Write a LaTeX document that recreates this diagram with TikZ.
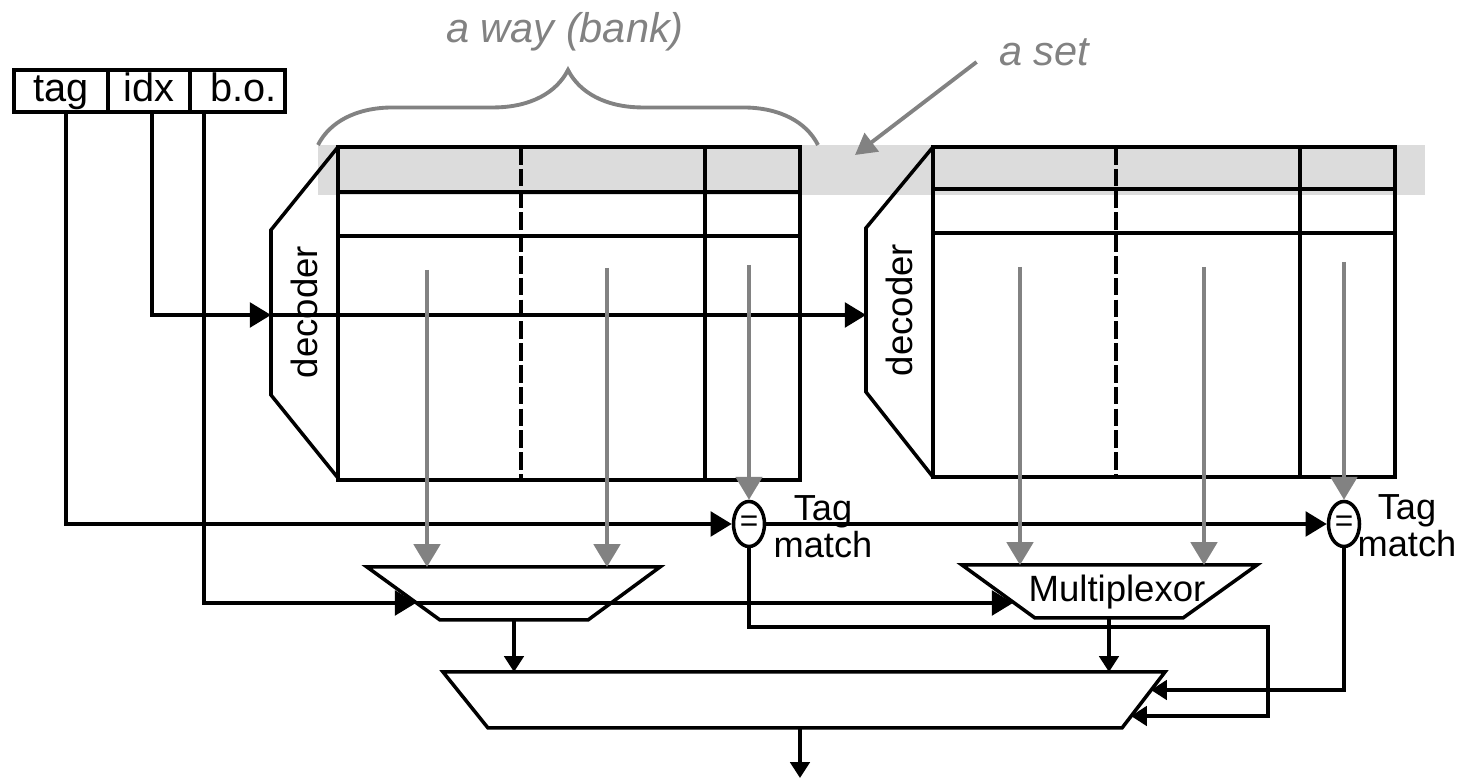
\documentclass[tikz,border=0pt]{standalone}
\usepackage{fontspec}
\setmainfont{Liberation Sans}
\usetikzlibrary{arrows.meta,decorations.pathreplacing,shapes.geometric,calc}
\definecolor{bandgray}{HTML}{DCDCDC}
\definecolor{midgray}{HTML}{828282}
\begin{document}
\begin{tikzpicture}[x=0.01cm,y=-0.01cm,
  wire/.style={line width=1pt,line join=miter},
  blk/.style={-{Triangle[length=6pt,width=7pt]}},
  sblk/.style={-{Triangle[length=4.5pt,width=5.5pt]}},
  gar/.style={draw=midgray,line width=1.1pt,-{Triangle[length=6.5pt,width=7.5pt]}},
  field/.style={draw,line width=1pt,minimum height=0.42cm,inner sep=0pt,text height=1.55ex,text depth=0.45ex,font=\fontsize{11.3}{13}\selectfont},
  lbl/.style={font=\fontsize{10.4}{12}\selectfont},
  tmlbl/.style={align=center,inner sep=0pt,font=\fontsize{10.3}{8.6}\selectfont},
  glbl/.style={text=midgray,font=\fontsize{11.8}{14}\selectfont\itshape},
  cmp/.style={draw,ellipse,line width=1pt,minimum width=0.31cm,minimum height=0.45cm,inner sep=0pt,fill=white,font=\fontsize{9}{9}\selectfont},
  grid/.style={line width=1pt},
  dgrid/.style={line width=1pt,dash pattern=on 5pt off 1.2pt},
]
\useasboundingbox (0,0) rectangle (1462,780);

% the highlighted set
\fill[bandgray] (318,145) rectangle (1425,195);

% address fields
\node[field,minimum width=0.94cm] (tagf) at (61,91) {tag};
\node[field,minimum width=0.82cm] (idxf) at (149,91) {idx};
\node[field,minimum width=0.95cm,text width=0.79cm,align=right,inner xsep=0.08cm] (bof) at (237.5,91) {b.o.};

% bank 1
\draw[grid] (338,147) -- (271,230) -- (271,395) -- (338,478);
\draw[grid] (338,147) rectangle (800,480);
\draw[grid] (338,192) -- (800,192);
\draw[grid] (338,236) -- (800,236);
\draw[dgrid] (521,147) -- (521,480);
\draw[grid] (705,147) -- (705,480);
\node[lbl,rotate=90] (dec1) at (304,312) {decoder};

% bank 2
\draw[grid] (933,147) -- (866,228) -- (866,392) -- (933,477);
\draw[grid] (933,147) rectangle (1395,477);
\draw[grid] (933,189) -- (1395,189);
\draw[grid] (933,233) -- (1395,233);
\draw[dgrid] (1116,147) -- (1116,477);
\draw[grid] (1300,147) -- (1300,477);
\node[lbl,rotate=90] (dec2) at (899,310) {decoder};

% brace and labels
\draw[midgray,line width=1.1pt,decorate,decoration={brace,amplitude=0.75cm}] (318,145) -- (818,145);
\node[glbl] (way) at (565,32) {a way (bank)};
\node[glbl] (aset) at (1044,52) {a set};
\coordinate (asetarr) at (855,155);
\draw[midgray,line width=1.1pt,-{Triangle[length=6pt,width=6.5pt]}] ($(aset.west)+(-10,10)$) -- (asetarr);

% comparators
\node[cmp] (c1) at (749,524) {=};
\node[cmp] (c2) at (1344,524) {=};
\node[tmlbl] (tm1) at (823,527) {Tag\\match};
\node[tmlbl] (tm2) at (1407,526) {Tag\\match};

% multiplexors
\coordinate (m1tl) at (367,567); \coordinate (m1tr) at (660,567);
\coordinate (m1br) at (588,620); \coordinate (m1bl) at (440,620);
\draw[wire] (m1tl) -- (m1tr) -- (m1br) -- (m1bl) -- cycle;
\coordinate (m2tl) at (962,565); \coordinate (m2tr) at (1257,565);
\coordinate (m2br) at (1183,618); \coordinate (m2bl) at (1035,618);
\draw[wire] (m2tl) -- (m2tr) -- (m2br) -- (m2bl) -- cycle;
\node[lbl] (mux2) at (1117,592) {Multiplexor};
\coordinate (btl) at (443,672); \coordinate (btr) at (1165,672);
\coordinate (bbr) at (1122,728); \coordinate (bbl) at (488,728);
\draw[wire] (btl) -- (btr) -- (bbr) -- (bbl) -- cycle;

% gray data arrows
\coordinate (g1) at (427,270); \coordinate (g1e) at (427,567);
\coordinate (g2) at (607,268); \coordinate (g2e) at (607,567);
\coordinate (g3) at (749,265);
\coordinate (g4) at (1020,267); \coordinate (g4e) at (1020,565);
\coordinate (g5) at (1204,267); \coordinate (g5e) at (1204,565);
\coordinate (g6) at (1344,262);

% address wires
\coordinate (dec1in) at (271,315);
\coordinate (dec2in) at (866,315);
\coordinate (m1in) at (416,603);
\coordinate (m2in) at (1013,603);
\draw[wire,blk] ($(tagf.south)+(5,0)$) |- (c1.west);
\draw[wire,blk] ($(idxf.south)+(3,0)$) |- (dec1in);
\draw[wire,blk] (dec1in) -- (dec2in);
\draw[wire,blk] ($(bof.south)+(-33.5,0)$) |- (m1in);
\draw[wire,blk] (m1in) -- (m2in);
\draw[wire,blk] (c1.east) -- (c2.west);

\draw[gar] (g1) -- (g1e);
\draw[gar] (g2) -- (g2e);
\draw[gar] (g3) -- (c1.north);
\draw[gar] (g4) -- (g4e);
\draw[gar] (g5) -- (g5e);
\draw[gar] (g6) -- (c2.north);

% outputs
\coordinate (bmr1) at (1151,690);
\coordinate (bmr2) at (1131,716);
\coordinate (turn) at (1268,627);
\coordinate (m1out) at (514,620); \coordinate (m1to) at (514,672);
\coordinate (m2out) at (1109,618); \coordinate (m2to) at (1109,672);
\coordinate (bout) at (800,728); \coordinate (out) at (800,778);
\draw[wire,sblk] (c1.south) |- (turn) |- (bmr2);
\draw[wire,sblk] (c2.south) |- (bmr1);
\draw[wire,sblk] (m1out) -- (m1to);
\draw[wire,sblk] (m2out) -- (m2to);
\draw[wire,sblk] (bout) -- (out);
\end{tikzpicture}
\end{document}
